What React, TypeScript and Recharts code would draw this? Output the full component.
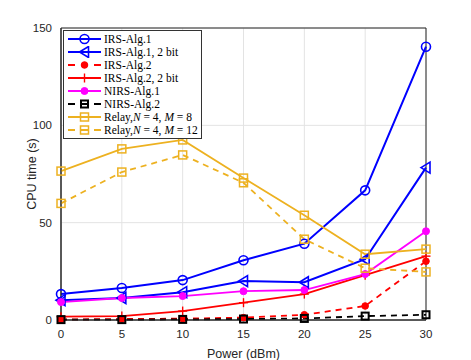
import React from "react";
import { LineChart, Line, XAxis, YAxis, CartesianGrid, ReferenceArea } from "recharts";

const powers = [0, 5, 10, 15, 20, 25, 30];
const irsAlg1 = [13.3, 16.4, 20.5, 30.7, 39.2, 66.6, 140.4];
const irsAlg1Bit = [10.2, 11.3, 14.3, 20, 19.4, 31.2, 78.3];
const irsAlg2 = [0.3, 0.5, 0.7, 1.2, 2.7, 7.2, 30.2];
const irsAlg2Bit = [1.7, 2, 4.6, 8.9, 13.3, 23, 32.8];
const nirsAlg1 = [9.2, 11.3, 12.3, 14.8, 15.4, 23.6, 45.6];
const nirsAlg2 = [0.2, 0.2, 0.3, 0.5, 0.8, 2, 2.7];
const relay8 = [76.5, 87.9, 92.5, 72.9, 53.8, 33.8, 36.4];
const relay12 = [59.9, 76, 84.8, 70.5, 41.5, 26.6, 24.7];
const xTicks = [0, 5, 10, 15, 20, 25, 30];
const yTicks = [0, 50, 100, 150];

const data = powers.map((p, i) => ({
  p,
  irsAlg1: irsAlg1[i],
  irsAlg1Bit: irsAlg1Bit[i],
  irsAlg2: irsAlg2[i],
  irsAlg2Bit: irsAlg2Bit[i],
  nirsAlg1: nirsAlg1[i],
  nirsAlg2: nirsAlg2[i],
  relay8: relay8[i],
  relay12: relay12[i],
}));

const BLUE = "#0000ff";
const RED = "#ff0000";
const MAG = "#ff00ff";
const BLK = "#000000";
const ORA = "#edb120";

type Kind = "circle" | "tri" | "dot" | "plus" | "mdot" | "bsq" | "osq";

function Marker({ kind, cx, cy, color }: { kind: Kind; cx: number; cy: number; color: string }) {
  switch (kind) {
    case "circle":
      return <circle cx={cx} cy={cy} r={4.5} fill="none" stroke={color} strokeWidth={1.6} />;
    case "tri":
      return (
        <polygon
          points={`${cx - 5},${cy} ${cx + 4},${cy - 5.5} ${cx + 4},${cy + 5.5}`}
          fill="none"
          stroke={color}
          strokeWidth={1.6}
        />
      );
    case "dot":
      return <circle cx={cx} cy={cy} r={3.3} fill={color} stroke={color} strokeWidth={1} />;
    case "plus":
      return (
        <g stroke={color} strokeWidth={1.4}>
          <line x1={cx - 4.5} y1={cy} x2={cx + 4.5} y2={cy} />
          <line x1={cx} y1={cy - 4.5} x2={cx} y2={cy + 4.5} />
        </g>
      );
    case "mdot":
      return <circle cx={cx} cy={cy} r={3.5} fill={color} stroke={color} strokeWidth={1} />;
    case "bsq":
      return <rect x={cx - 3.5} y={cy - 3.5} width={7} height={7} fill="none" stroke={color} strokeWidth={2} />;
    case "osq":
      return <rect x={cx - 4} y={cy - 4} width={8} height={8} fill="none" stroke={color} strokeWidth={1.5} />;
  }
  return null;
}

const makeDot = (kind: Kind, color: string) => (props: any) => {
  const { cx, cy, index } = props;
  if (cx == null || cy == null) return <g key={index} />;
  return (
    <g key={`${kind}-${index}`}>
      <Marker kind={kind} cx={cx} cy={cy} color={color} />
    </g>
  );
};

type SeriesDef = {
  key: string;
  color: string;
  dash?: string;
  kind: Kind;
  width: number;
  label: React.ReactNode;
};

const series: SeriesDef[] = [
  { key: "irsAlg1", color: BLUE, kind: "circle", width: 2, label: "IRS-Alg.1" },
  { key: "irsAlg1Bit", color: BLUE, kind: "tri", width: 2, label: "IRS-Alg.1, 2 bit" },
  { key: "irsAlg2", color: RED, kind: "dot", width: 1.8, dash: "6 5", label: "IRS-Alg.2" },
  { key: "irsAlg2Bit", color: RED, kind: "plus", width: 1.8, label: "IRS-Alg.2, 2 bit" },
  { key: "nirsAlg1", color: MAG, kind: "mdot", width: 1.8, label: "NIRS-Alg.1" },
  { key: "nirsAlg2", color: BLK, kind: "bsq", width: 1.8, dash: "6 5", label: "NIRS-Alg.2" },
  {
    key: "relay8",
    color: ORA,
    kind: "osq",
    width: 1.8,
    label: (
      <span>
        Relay,<i>N</i> = 4, <i>M</i> = 8
      </span>
    ),
  },
  {
    key: "relay12",
    color: ORA,
    kind: "osq",
    width: 1.8,
    dash: "6 5",
    label: (
      <span>
        Relay,<i>N</i> = 4, <i>M</i> = 12
      </span>
    ),
  },
];

const LegendBox = () => (
  <div
    style={{
      position: "absolute",
      left: 55,
      top: 22,
      border: "1px solid #333",
      background: "#fff",
      width: 137,
      padding: "2px 0 2px 0",
      fontFamily: "'Liberation Serif', 'DejaVu Serif', serif",
      fontSize: 11.5,
      color: "#000",
    }}
  >
    {series.map((s) => (
      <div key={s.key} style={{ display: "flex", alignItems: "center", height: 12.9 }}>
        <svg width={40} height={12} style={{ flex: "none" }}>
          <line
            x1={4}
            y1={6}
            x2={37}
            y2={6}
            stroke={s.color}
            strokeWidth={s.width}
            strokeDasharray={s.dash ? "7 6" : undefined}
          />
          <Marker kind={s.kind} cx={20.5} cy={6} color={s.color} />
        </svg>
        <span style={{ whiteSpace: "nowrap", lineHeight: "12px" }}>{s.label}</span>
      </div>
    ))}
  </div>
);

export default function App() {
  return (
    <div style={{ position: "relative", width: 471, height: 352 }}>
      <LineChart width={471} height={352} data={data} margin={{ top: 20, right: 53, bottom: 0, left: 0 }}>
        <CartesianGrid stroke="#e3e3e3" strokeWidth={1} />
        <XAxis
          dataKey="p"
          type="number"
          domain={[0, 30]}
          ticks={xTicks}
          height={40}
          tickLine={false}
          stroke="#262626"
          tick={{ fill: "#262626", fontSize: 11.5, fontFamily: "'Liberation Sans', Arial, sans-serif" }}
          tickMargin={4}
          label={{
            value: "Power (dBm)",
            position: "insideBottom",
            offset: 2,
            fill: "#262626",
            fontSize: 12.5,
            fontFamily: "'Liberation Sans', Arial, sans-serif",
          }}
        />
        <YAxis
          type="number"
          domain={[0, 150]}
          ticks={yTicks}
          width={53}
          tickLine={false}
          stroke="#262626"
          tick={{ fill: "#262626", fontSize: 11.5, fontFamily: "'Liberation Sans', Arial, sans-serif" }}
          tickMargin={3}
          label={{
            value: "CPU time (s)",
            angle: -90,
            position: "insideLeft",
            offset: 24,
            style: { textAnchor: "middle" },
            fill: "#262626",
            fontSize: 12.5,
            fontFamily: "'Liberation Sans', Arial, sans-serif",
          }}
        />
        <ReferenceArea x1={0} x2={30} y1={0} y2={150} fill="none" stroke="#262626" strokeWidth={1} ifOverflow="visible" />
        {series.map((s) => (
          <Line
            key={s.key}
            dataKey={s.key}
            type="linear"
            stroke={s.color}
            strokeWidth={s.width}
            strokeDasharray={s.dash}
            dot={makeDot(s.kind, s.color)}
            activeDot={false}
            isAnimationActive={false}
          />
        ))}
      </LineChart>
      <LegendBox />
    </div>
  );
}
